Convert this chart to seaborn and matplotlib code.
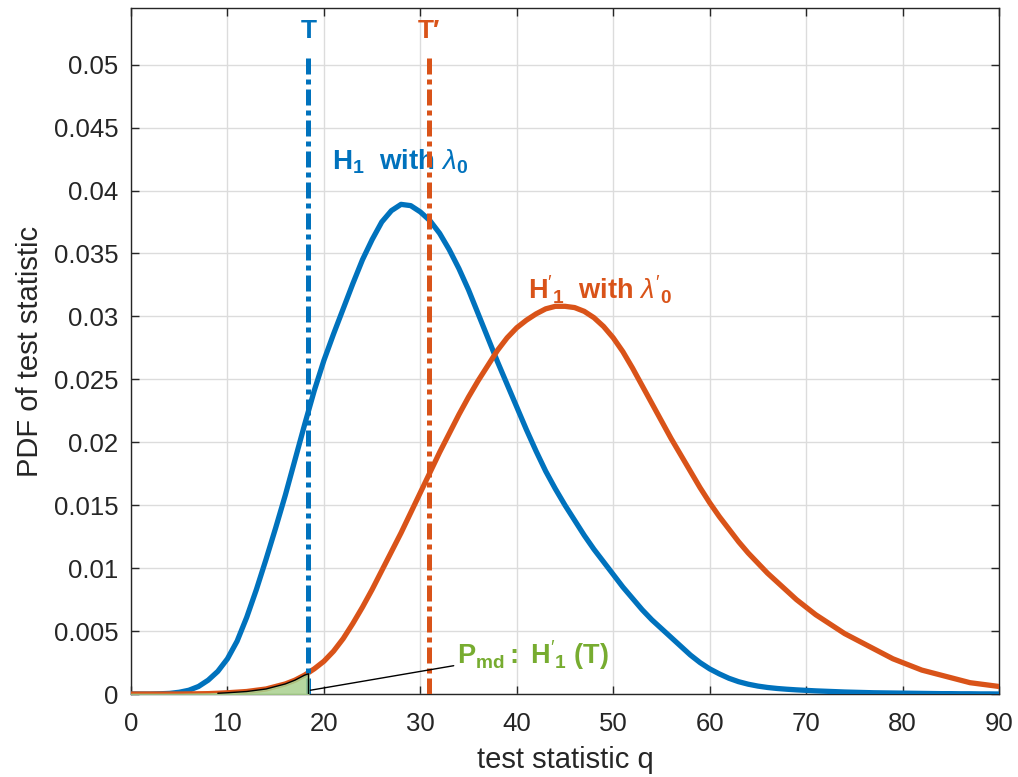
import numpy as np
import pandas as pd
import matplotlib
matplotlib.use("Agg")
import matplotlib.pyplot as plt
import seaborn as sns

# ---- data ----
q = list(range(0, 91))
pdf_h1 = [0.0, 0.0, 0.0, 0.00002, 0.00005, 0.00014, 0.0003, 0.0006, 0.0011, 0.0018,
          0.0028, 0.0042, 0.0061, 0.0083, 0.0107, 0.0132, 0.0158, 0.0186, 0.0214, 0.0241,
          0.0265, 0.0286, 0.0306, 0.0326, 0.0345, 0.0361, 0.0375, 0.0384, 0.0389, 0.0388,
          0.0383, 0.0376, 0.0366, 0.0353, 0.0338, 0.0321, 0.0302, 0.0283, 0.0264, 0.0246,
          0.0228, 0.0210, 0.0193, 0.0177, 0.0163, 0.0150, 0.0138, 0.0126, 0.0115, 0.0105,
          0.0095, 0.0085, 0.0076, 0.0067, 0.0059, 0.0052, 0.0045, 0.0038, 0.0031, 0.0025,
          0.0020, 0.0016, 0.00125, 0.00098, 0.00078, 0.00063, 0.00052, 0.00044, 0.00038, 0.00033,
          0.00029, 0.00025, 0.00022, 0.00019, 0.00016, 0.00014, 0.00012, 0.0001, 0.00009, 0.00008,
          0.00007, 0.00006, 0.00005, 0.00004, 0.00003, 0.00003, 0.00002, 0.00002, 0.00001, 0.00001,
          0.0]
pdf_h1p = [0.0, 0.0, 0.0, 0.0, 0.0, 0.0, 0.00001, 0.00002, 0.00003, 0.00006,
           0.0001, 0.00015, 0.0002, 0.0003, 0.0004, 0.0006, 0.0008, 0.0011, 0.0015, 0.0020,
           0.0026, 0.0034, 0.0044, 0.0056, 0.0069, 0.0083, 0.0098, 0.0113, 0.0128, 0.0144,
           0.0160, 0.0176, 0.0192, 0.0207, 0.0222, 0.0236, 0.0249, 0.0261, 0.0273, 0.0283,
           0.0291, 0.0297, 0.0302, 0.0306, 0.0308, 0.0308, 0.0307, 0.0304, 0.0299, 0.0292,
           0.0283, 0.0272, 0.0259, 0.0245, 0.0231, 0.0217, 0.0203, 0.0190, 0.0177, 0.0164,
           0.0152, 0.0141, 0.0131, 0.0121, 0.0112, 0.0104, 0.0096, 0.0089, 0.0082, 0.0075,
           0.0069, 0.0063, 0.0058, 0.0053, 0.0048, 0.0044, 0.0040, 0.0036, 0.0032, 0.0028,
           0.0025, 0.0022, 0.0019, 0.0017, 0.0015, 0.0013, 0.0011, 0.0009, 0.0008, 0.0007,
           0.0006]
T = 18.4
T_prime = 30.9
pdf_h1p_at_T = 0.0016
vline_top = 0.0506
xticks = [0, 10, 20, 30, 40, 50, 60, 70, 80, 90]
yticks = [0, 0.005, 0.01, 0.015, 0.02, 0.025, 0.03, 0.035, 0.04, 0.045, 0.05]
ytick_labels = ["0", "0.005", "0.01", "0.015", "0.02", "0.025", "0.03", "0.035",
                "0.04", "0.045", "0.05"]

BLUE = "#0072bd"
ORANGE = "#d95319"
GREEN = "#77ac30"
INK = "#262626"

sns.set_style("ticks")
plt.rcParams["font.family"] = ["Liberation Sans", "DejaVu Sans"]
plt.rcParams["mathtext.fontset"] = "custom"
plt.rcParams["mathtext.rm"] = "Liberation Sans"
plt.rcParams["mathtext.bf"] = "Liberation Sans:bold"
plt.rcParams["mathtext.it"] = "Liberation Sans:italic"

df = pd.DataFrame({"q": q, "H1": pdf_h1, "H1p": pdf_h1p})

fig = plt.figure(figsize=(10.18, 7.77), dpi=100)
ax = fig.add_axes([0.1287, 0.1068, 0.8526, 0.8829])

sns.lineplot(data=df, x="q", y="H1", ax=ax, color=BLUE, lw=3.8, zorder=3)
sns.lineplot(data=df, x="q", y="H1p", ax=ax, color=ORANGE, lw=3.8, zorder=3)

dash = (0, (3.2, 1.0, 1.0, 1.0))
ax.plot([T, T], [0, vline_top], color=BLUE, lw=3.6, linestyle=dash, zorder=4)
ax.plot([T_prime, T_prime], [0, vline_top], color=ORANGE, lw=3.6, linestyle=dash, zorder=4)

# shaded miss-detection area
fq = [v for v in q if v <= T] + [T]
fv = [pdf_h1p[i] for i, v in enumerate(q) if v <= T] + [pdf_h1p_at_T]
ax.fill_between(fq, 0, fv, color="#a9d18e", alpha=0.85, zorder=5)
ax.plot(fq[9:], fv[9:], color="black", lw=1.0, zorder=6)
ax.plot([T, T], [0, pdf_h1p_at_T], color="black", lw=1.0, zorder=6)

ax.set_xlim(0, 90)
ax.set_ylim(0, 0.0545)
ax.set_xticks(xticks)
ax.set_yticks(yticks)
ax.set_yticklabels(ytick_labels)
ax.grid(True, color="#dcdcdc", lw=1.0)
ax.set_axisbelow(True)
ax.tick_params(direction="in", length=6, width=1, labelsize=18.5, colors=INK,
               top=True, right=True)
ax.tick_params(axis="x", pad=13)
ax.tick_params(axis="y", pad=9)
for s in ax.spines.values():
    s.set_color(INK)
    s.set_linewidth(1.0)
    s.set_visible(True)

ax.set_xlabel("test statistic q", fontsize=21, color=INK, labelpad=7)
ax.set_ylabel("PDF of test statistic", fontsize=21, color=INK, labelpad=7)

ax.text(T, 0.0527, "T", color=BLUE, fontsize=19, fontweight="bold", ha="center", va="center")
ax.text(T_prime, 0.0527, "T\u2032", color=ORANGE, fontsize=19, fontweight="bold",
        ha="center", va="center")
ax.text(27.9, 0.0423, r"$\mathbf{H_1\ \ with}\ \lambda_\mathbf{0}$", color=BLUE, fontsize=20,
        ha="center", va="center")
ax.text(48.6, 0.0321, r"$\mathbf{H}'_\mathbf{1}\ \ \mathbf{with}\ \lambda'_\mathbf{0}$",
        color=ORANGE, fontsize=19.5, ha="center", va="center")

ax.annotate(r"$\mathbf{P_{md}}$$\mathbf{:}$ $\mathbf{H}'_\mathbf{1}$ $\mathbf{(T)}$",
            xy=(18.6, 0.0003), xytext=(33.8, 0.0031), color=GREEN, fontsize=19.5,
            ha="left", va="center",
            arrowprops=dict(arrowstyle="-", color="black", lw=1.0,
                            shrinkA=0, shrinkB=0, relpos=(0, 0.2)), zorder=7)

fig.savefig("out.png", dpi=100)
